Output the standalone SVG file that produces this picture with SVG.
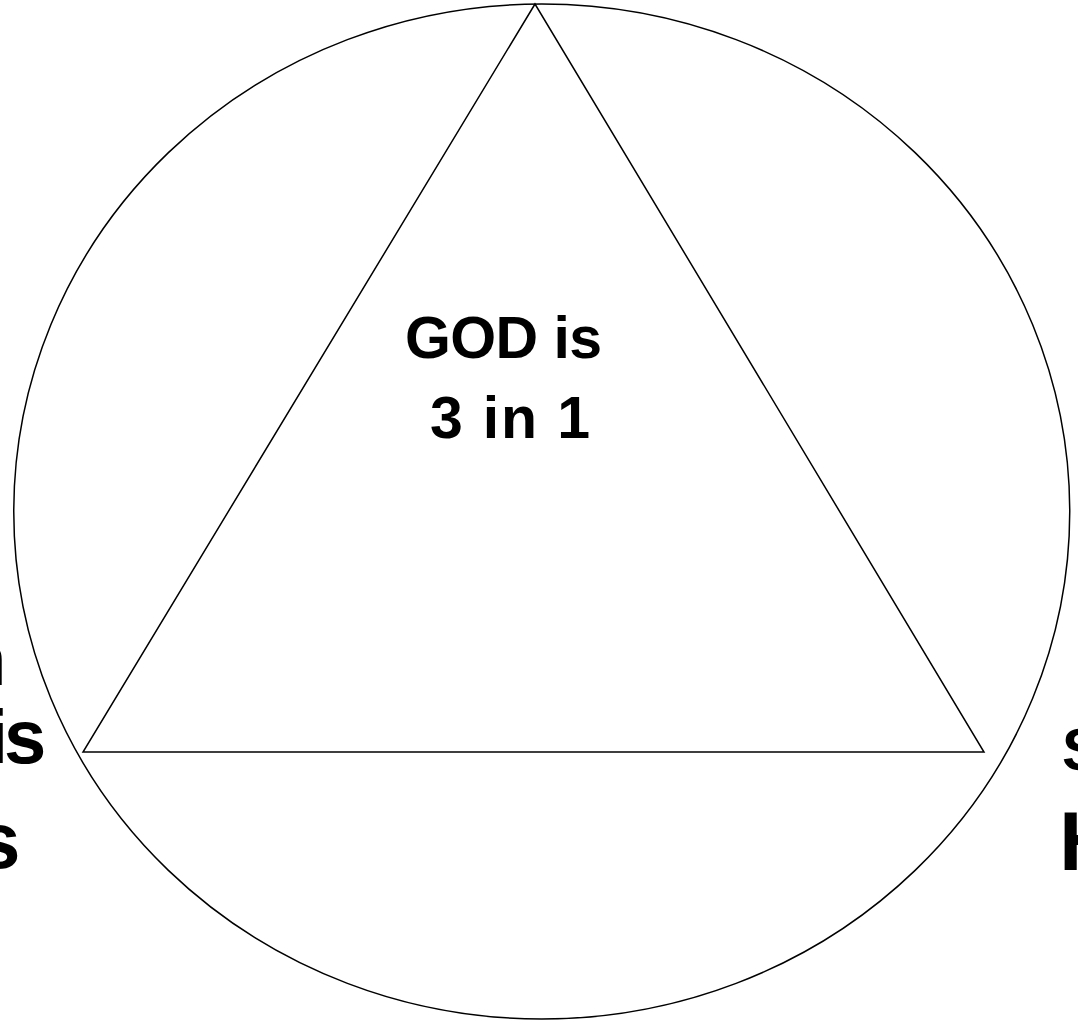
<svg xmlns="http://www.w3.org/2000/svg" width="1078" height="1029" viewBox="0 0 1078 1029">
<style>
.ln{fill:none;stroke:#000;stroke-width:1.5}
.t{font-family:"Liberation Sans",Arial,sans-serif;font-weight:bold;fill:#000}
</style>
<rect width="1078" height="1029" fill="#fff"/>
<g id="circle"><ellipse class="ln" cx="541.75" cy="511.5" rx="528" ry="507.5"/></g>
<g id="triangle"><polygon class="ln" points="535,4 83,752 984,752"/></g>
<g id="center-label">
<text class="t" x="503.5" y="358" font-size="59" text-anchor="middle" textLength="197" lengthAdjust="spacing">GOD is</text>
<text class="t" x="510" y="438" font-size="59" text-anchor="middle" textLength="160" lengthAdjust="spacing">3 in 1</text>
</g>
<g id="left-label">
<text class="t" x="-40" y="685" font-size="76">n</text>
<text class="t" x="-13 4" y="763" font-size="76">is</text>
<text class="t" x="-24" y="868" font-size="80">s</text>
</g>
<g id="right-label">
<text class="t" x="1062" y="770" font-size="60">S</text>
<text class="t" x="1059" y="870" font-size="84">H</text>
</g>
</svg>
